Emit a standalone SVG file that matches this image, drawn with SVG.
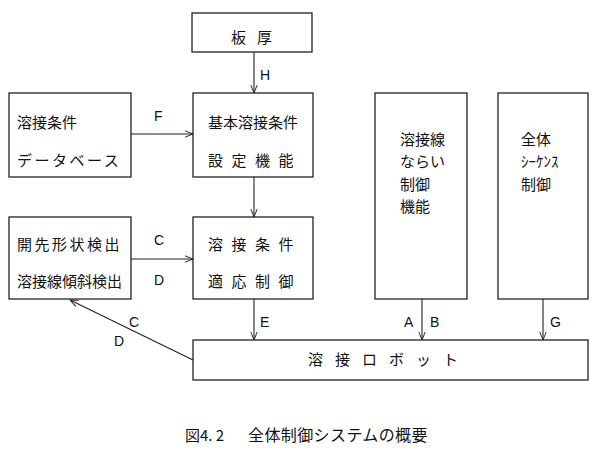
<svg xmlns="http://www.w3.org/2000/svg" width="600" height="452" viewBox="0 0 600 452">
<style>
.box{fill:#fff;stroke:#222;stroke-width:1.3}
.t{font-family:"Noto Sans CJK JP","Noto Sans CJK SC",sans-serif;font-size:15px;fill:#111}
.l{font-family:"Liberation Sans",sans-serif;font-size:14px;fill:#111}
.c{fill:none;stroke:#222;stroke-width:1.1}
</style>
<defs>
<marker id="a" viewBox="0 0 10 10" refX="10" refY="5" markerWidth="8" markerHeight="8" orient="auto" markerUnits="userSpaceOnUse">
<path d="M0,1 L10,5 L0,9" fill="none" stroke="#222" stroke-width="1.2"/>
</marker>
</defs>
<rect width="600" height="452" fill="#fff"/>
<g id="itaatsu"><rect class="box" x="192" y="13" width="120" height="39"/><text class="t" x="231" y="43" letter-spacing="11">板厚</text></g>
<g id="db"><rect class="box" x="9" y="93" width="122" height="84"/><text class="t" x="17" y="128">溶接条件</text><text class="t" x="17" y="166" letter-spacing="2.5">データベース</text></g>
<g id="kihon"><rect class="box" x="193" y="93" width="120" height="84"/><text class="t" x="208" y="128">基本溶接条件</text><text class="t" x="208" y="166" letter-spacing="8.5">設定機能</text></g>
<g id="kensyutsu"><rect class="box" x="9" y="217" width="122" height="82"/><text class="t" x="17" y="250" letter-spacing="2.5">開先形状検出</text><text class="t" x="17" y="287">溶接線傾斜検出</text></g>
<g id="tekiou"><rect class="box" x="193" y="217" width="120" height="82"/><text class="t" x="208" y="250" letter-spacing="8.5">溶接条件</text><text class="t" x="208" y="287" letter-spacing="8.5">適応制御</text></g>
<g id="narai"><rect class="box" x="375" y="93" width="92" height="206"/><text class="t" x="400" y="145">溶接線</text><text class="t" x="400" y="167">ならい</text><text class="t" x="400" y="190">制御</text><text class="t" x="400" y="212">機能</text></g>
<g id="sequence"><rect class="box" x="498" y="93" width="90" height="206"/><text class="t" x="521" y="145">全体</text><text class="t" x="521" y="167" font-size="13">ｼｰｹﾝｽ</text><text class="t" x="521" y="190">制御</text></g>
<g id="robot"><rect class="box" x="193" y="340" width="395" height="40"/><text class="t" x="308" y="365" letter-spacing="12">溶接ロボット</text></g>
<g id="connectors">
<line class="c" x1="254" y1="52" x2="254" y2="93" marker-end="url(#a)"/>
<line class="c" x1="131" y1="134" x2="193" y2="134" marker-end="url(#a)"/>
<line class="c" x1="254" y1="177" x2="254" y2="217" marker-end="url(#a)"/>
<line class="c" x1="131" y1="259" x2="193" y2="259" marker-end="url(#a)"/>
<line class="c" x1="254" y1="299" x2="254" y2="340" marker-end="url(#a)"/>
<line class="c" x1="422" y1="299" x2="422" y2="340" marker-end="url(#a)"/>
<line class="c" x1="543" y1="299" x2="543" y2="340" marker-end="url(#a)"/>
<line class="c" x1="193" y1="360" x2="70" y2="300" marker-end="url(#a)"/>
<text class="l" x="260" y="80">H</text>
<text class="l" x="154" y="121">F</text>
<text class="l" x="154" y="245">C</text>
<text class="l" x="154" y="285">D</text>
<text class="l" x="260" y="327">E</text>
<text class="l" x="404" y="327">A</text>
<text class="l" x="430" y="327">B</text>
<text class="l" x="550" y="327">G</text>
<text class="l" x="129" y="327">C</text>
<text class="l" x="114" y="346">D</text>
</g>
<g id="caption"><text class="t" x="185" y="441" font-size="15">図4. 2<tspan x="248" font-size="16" letter-spacing="0.4">全体制御システムの概要</tspan></text></g>
</svg>
